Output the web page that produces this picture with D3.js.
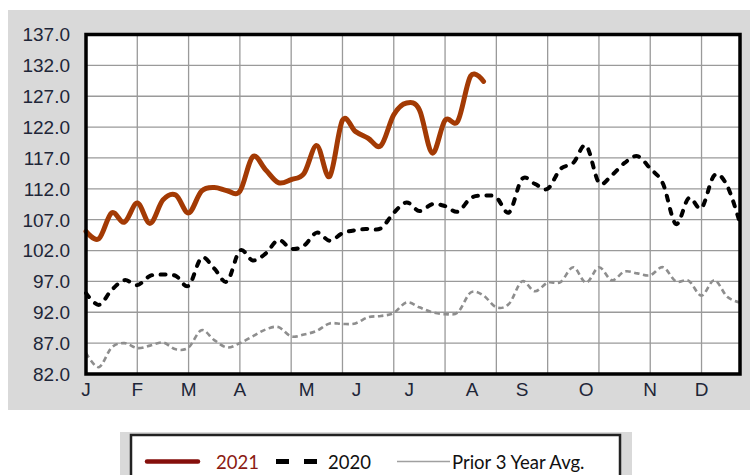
<!DOCTYPE html>
<html>
<head>
<meta charset="utf-8">
<script src="https://cdn.jsdelivr.net/npm/d3@7"></script>
<style>
  body { margin: 0; background: #fff; }
  svg { display: block; }
</style>
</head>
<body>
<div id="chart"></div>
<script>
// weekly index values, week 1 = first week of January
const series2021 = [105.1, 103.9, 108.1, 106.6, 109.7, 106.4, 110.2, 111.0, 108.1, 111.6,
  112.2, 111.7, 111.6, 117.2, 115.1, 113.0, 113.5, 114.5, 119.0, 114.0,
  123.1, 121.3, 120.2, 119.0, 124.0, 125.9, 124.8, 117.8, 123.1, 123.0,
  130.3, 129.4]

const series2020 = [95.1, 93.2, 95.6, 97.2, 96.4, 97.9, 98.1, 97.9, 96.3, 100.8,
  99.1, 97.0, 102.0, 100.4, 101.5, 103.7, 102.3, 102.8, 104.9, 103.6,
  104.8, 105.3, 105.5, 105.6, 108.1, 109.8, 108.4, 109.5, 109.2, 108.3,
  110.5, 110.9, 110.6, 108.2, 113.6, 112.8, 112.0, 115.2, 116.2, 119.0,
  113.0, 114.2, 116.2, 117.3, 115.3, 112.8, 106.3, 110.5, 108.9, 114.2,
  112.5, 106.4]

const seriesPrior = [85.4, 83.1, 86.3, 87.0, 86.2, 86.6, 87.1, 86.0, 86.3, 89.1,
  87.5, 86.3, 87.0, 88.1, 89.2, 89.6, 88.1, 88.4, 89.0, 90.2,
  90.1, 90.2, 91.2, 91.4, 91.9, 93.6, 92.8, 92.0, 91.7, 92.0,
  95.2, 94.7, 92.8, 93.4, 97.0, 95.4, 96.8, 96.9, 99.3, 96.8,
  99.3, 97.2, 98.6, 98.3, 98.0, 99.3, 97.0, 97.1, 94.7, 97.2,
  94.5, 93.6]

const yTicks = [82, 87, 92, 97, 102, 107, 112, 117, 122, 127, 132, 137]
const gridWeeks = [1, 5, 9, 13, 17, 21, 25, 29, 33, 37, 41, 45, 49]
const monthLabels = ['J', 'F', 'M', 'A', 'M', 'J', 'J', 'A', 'S', 'O', 'N', 'D']
const monthWeeks = [1, 5, 9, 13, 18.2, 22.1, 26.2, 31.1, 35, 40, 45, 49]

const width = 750
const height = 475
const plot = { left: 86, right: 740, top: 34.5, bottom: 374 }
const textColor = '#1e2638'

const svg = d3
  .select('#chart')
  .append('svg')
  .attr('width', width)
  .attr('height', height)

// grey panel behind the chart
svg.append('rect')
  .attr('x', 8).attr('y', 10)
  .attr('width', width - 8).attr('height', 400)
  .attr('fill', '#d9d9d9')

svg.append('rect')
  .attr('x', plot.left).attr('y', plot.top)
  .attr('width', plot.right - plot.left).attr('height', plot.bottom - plot.top)
  .attr('fill', '#fff')

const x = d3.scaleLinear().domain([1, 52]).range([plot.left, plot.right])
const y = d3.scaleLinear().domain([82, 137]).range([plot.bottom, plot.top])

// grid
svg.selectAll('.hgrid')
  .data(yTicks)
  .enter()
  .append('line')
  .attr('class', 'hgrid')
  .attr('x1', plot.left).attr('x2', plot.right)
  .attr('y1', d => y(d)).attr('y2', d => y(d))
  .attr('stroke', '#9a9a9a')
  .attr('stroke-width', 1.3)

svg.selectAll('.vgrid')
  .data(gridWeeks)
  .enter()
  .append('line')
  .attr('class', 'vgrid')
  .attr('x1', d => x(d)).attr('x2', d => x(d))
  .attr('y1', plot.top).attr('y2', plot.bottom)
  .attr('stroke', '#9a9a9a')
  .attr('stroke-width', 1.3)

// axes labels
svg.selectAll('.ylab')
  .data(yTicks)
  .enter()
  .append('text')
  .attr('class', 'ylab')
  .attr('x', 70)
  .attr('y', d => y(d))
  .attr('dy', '0.36em')
  .attr('text-anchor', 'end')
  .attr('font-family', 'Liberation Sans, Arial, sans-serif')
  .attr('font-size', 19)
  .attr('fill', textColor)
  .text(d => d.toFixed(1))

svg.selectAll('.xlab')
  .data(monthLabels)
  .enter()
  .append('text')
  .attr('class', 'xlab')
  .attr('x', (d, i) => x(monthWeeks[i]))
  .attr('y', 396)
  .attr('text-anchor', 'middle')
  .attr('font-family', 'Liberation Sans, Arial, sans-serif')
  .attr('font-size', 19)
  .attr('fill', textColor)
  .text(d => d)

const line = d3.line()
  .x((d, i) => x(i + 1))
  .y(d => y(d))
  .curve(d3.curveCatmullRom.alpha(0))

svg.append('path')
  .datum(seriesPrior)
  .attr('d', line)
  .attr('fill', 'none')
  .attr('stroke', '#8e8e8e')
  .attr('stroke-width', 2.6)
  .attr('stroke-dasharray', '5.5,3.5')

svg.append('path')
  .datum(series2020)
  .attr('d', line)
  .attr('fill', 'none')
  .attr('stroke', '#000')
  .attr('stroke-width', 4)
  .attr('stroke-linecap', 'round')
  .attr('stroke-dasharray', '5,8.5')

svg.append('path')
  .datum(series2021)
  .attr('d', line)
  .attr('fill', 'none')
  .attr('stroke', '#a33a04')
  .attr('stroke-width', 5)
  .attr('stroke-linecap', 'round')
  .attr('stroke-linejoin', 'round')

// plot border
svg.append('rect')
  .attr('x', plot.left).attr('y', plot.top)
  .attr('width', plot.right - plot.left).attr('height', plot.bottom - plot.top)
  .attr('fill', 'none')
  .attr('stroke', '#000')
  .attr('stroke-width', 3.5)

// legend
const legend = svg.append('g')

legend.append('rect')
  .attr('x', 120).attr('y', 432)
  .attr('width', 512).attr('height', 60)
  .attr('fill', '#d9d9d9')

legend.append('rect')
  .attr('x', 131).attr('y', 435)
  .attr('width', 489).attr('height', 60)
  .attr('fill', '#fff')
  .attr('stroke', '#222')
  .attr('stroke-width', 2.5)

const legendY = 461.5
legend.append('line')
  .attr('x1', 147).attr('x2', 198)
  .attr('y1', legendY).attr('y2', legendY)
  .attr('stroke', '#850f0b')
  .attr('stroke-width', 4.5)
  .attr('stroke-linecap', 'round')

legend.append('line')
  .attr('x1', 276).attr('x2', 318)
  .attr('y1', legendY).attr('y2', legendY)
  .attr('stroke', '#000')
  .attr('stroke-width', 5)
  .attr('stroke-dasharray', '13,15')

legend.append('line')
  .attr('x1', 397).attr('x2', 450)
  .attr('y1', legendY).attr('y2', legendY)
  .attr('stroke', '#a0a0a0')
  .attr('stroke-width', 1.5)

const legendText = [
  { label: '2021', x: 216, color: '#8b1a12' },
  { label: '2020', x: 328, color: '#111' },
  { label: 'Prior 3 Year Avg.', x: 452, color: '#111' }
]

legend.selectAll('.ltext')
  .data(legendText)
  .enter()
  .append('text')
  .attr('class', 'ltext')
  .attr('x', d => d.x)
  .attr('y', 469)
  .attr('font-family', 'Lato, sans-serif')
  .attr('font-size', 18.5)
  .attr('fill', d => d.color)
  .text(d => d.label)
</script>
</body>
</html>
